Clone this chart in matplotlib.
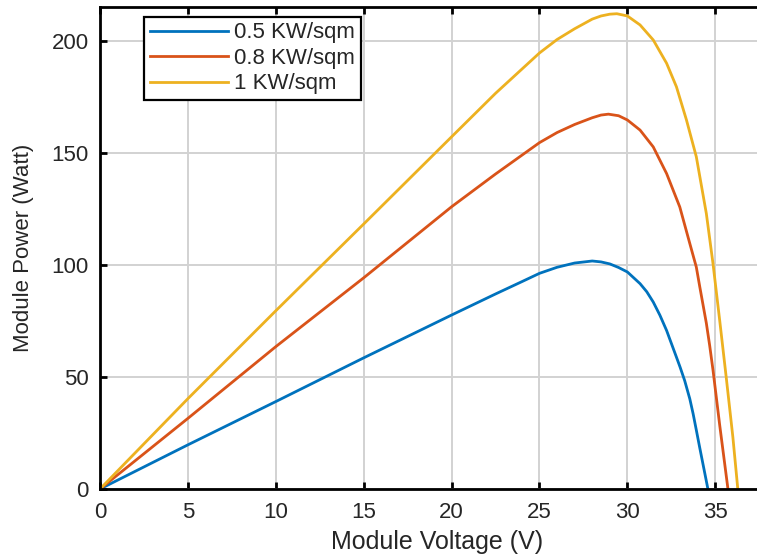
import matplotlib
matplotlib.use("Agg")
import matplotlib.pyplot as plt

plt.rcParams['font.family'] = ['Liberation Sans', 'DejaVu Sans']

# Data
v_05 = [0, 5, 10, 15, 20, 22.5, 24, 25, 26, 27, 28, 28.5, 29, 29.5, 30, 30.72, 31.1,
        31.47, 31.85, 32.23, 32.79, 33.0, 33.26, 33.55, 33.74, 33.92, 34.11, 34.58]
p_05 = [0, 19.7, 39.0, 58.5, 77.6, 87.0, 92.5, 96.2, 98.9, 100.8, 101.7, 101.3, 100.4, 98.8,
        96.8, 91.6, 88.0, 83.4, 77.5, 70.7, 58.8, 54.3, 48.3, 40.2, 33.5, 26.3, 18.6, 0]

v_08 = [0, 5, 10, 15, 20, 22.5, 25, 26, 27, 28, 28.5, 28.92, 29.5, 30, 30.72, 31.47, 32.23,
        32.98, 33.55, 33.92, 34.11, 34.49, 34.68, 34.87, 35.25, 35.72]
p_08 = [0, 31.5, 63.5, 94.2, 125.9, 140.5, 154.5, 159.0, 162.6, 165.6, 166.8, 167.2, 166.5,
        164.6, 160.1, 152.6, 140.7, 125.8, 109.5, 99.0, 90.5, 74.0, 64.0, 53.0, 28.5, 0]

v_10 = [0, 5, 10, 15, 20, 22.5, 25, 26, 27, 28, 28.5, 29, 29.4, 30, 30.72, 31.47, 32.23,
        32.79, 33.36, 33.92, 34.49, 34.87, 35.25, 35.62, 36.0, 36.28]
p_10 = [0, 40.3, 79.5, 118.2, 157.1, 176.5, 194.5, 200.5, 205.3, 209.6, 211.0, 211.8, 212.0,
        211.0, 207.0, 200.3, 189.9, 179.4, 164.6, 148.2, 122.9, 100.5, 75.2, 49.9, 23.1, 0]

labels = ['0.5 KW/sqm', '0.8 KW/sqm', '1 KW/sqm']
colors = ['#0072BD', '#D95319', '#EDB120']
x_ticks = [0, 5, 10, 15, 20, 25, 30, 35]
y_ticks = [0, 50, 100, 150, 200]

fig = plt.figure(figsize=(7.57, 5.56), dpi=100)
ax = fig.add_axes([100 / 757, 67 / 556, 657 / 757, 482 / 556])

for v, p, lab, c in zip([v_05, v_08, v_10], [p_05, p_08, p_10], labels, colors):
    ax.plot(v, p, color=c, lw=2.0, label=lab, solid_joinstyle='round')

ax.set_xlim(0, 657 / 17.58)
ax.set_ylim(0, 215)
ax.set_xticks(x_ticks)
ax.set_yticks(y_ticks)
ax.grid(True, color='#d2d2d2', lw=1.4)
ax.set_axisbelow(True)

for s in ['left', 'bottom', 'top']:
    ax.spines[s].set_linewidth(2.0)
    ax.spines[s].set_color('black')
ax.spines['right'].set_visible(False)

ax.tick_params(direction='in', length=5, width=2.0, top=True, right=False,
               labelsize=16, labelcolor='#262626', color='black')
ax.tick_params(axis='x', pad=9)
ax.tick_params(axis='y', pad=8)

ax.set_xlabel('Module Voltage (V)', fontsize=18, color='#262626')
ax.set_ylabel('Module Power (Watt)', fontsize=16, color='#262626')
ax.xaxis.set_label_coords((437.5 - 100) / 657, (489 - 530) / 482)
ax.yaxis.set_label_coords((34 - 100) / 657, 0.5)

leg = ax.legend(loc='upper left', bbox_to_anchor=((144 - 100) / 657, (489 - 16.7) / 482),
                borderaxespad=0, fontsize=16, handlelength=3.5, handletextpad=0.3,
                labelspacing=0.2, borderpad=0.26, fancybox=False, framealpha=1,
                edgecolor='black')
leg.get_frame().set_linewidth(1.6)
for t in leg.get_texts():
    t.set_color('#262626')

fig.savefig('out.png', dpi=100)
